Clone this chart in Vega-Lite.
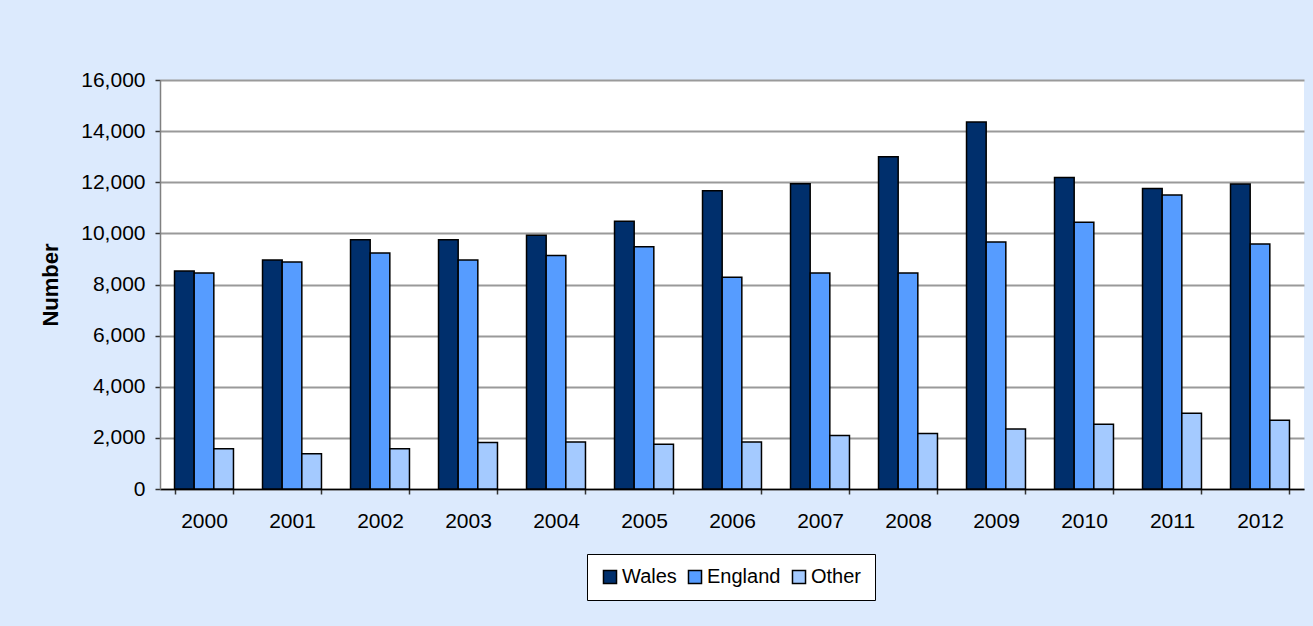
{
  "$schema": "https://vega.github.io/schema/vega-lite/v6.json",
  "autosize": {"type": "none"},
  "width": 1144,
  "height": 409,
  "padding": {"left": 160, "top": 80, "right": 9, "bottom": 137},
  "background": "#dceafd",
  "config": {
    "font": "Liberation Sans",
    "view": {"stroke": null, "fill": "#ffffff"}
  },
  "data": {
    "values": [
      {"year": "2000", "origin": "Wales", "number": 8530},
      {"year": "2000", "origin": "England", "number": 8450},
      {"year": "2000", "origin": "Other", "number": 1570},
      {"year": "2001", "origin": "Wales", "number": 8960},
      {"year": "2001", "origin": "England", "number": 8880},
      {"year": "2001", "origin": "Other", "number": 1380},
      {"year": "2002", "origin": "Wales", "number": 9750},
      {"year": "2002", "origin": "England", "number": 9230},
      {"year": "2002", "origin": "Other", "number": 1570},
      {"year": "2003", "origin": "Wales", "number": 9750},
      {"year": "2003", "origin": "England", "number": 8960},
      {"year": "2003", "origin": "Other", "number": 1820},
      {"year": "2004", "origin": "Wales", "number": 9930},
      {"year": "2004", "origin": "England", "number": 9130},
      {"year": "2004", "origin": "Other", "number": 1840},
      {"year": "2005", "origin": "Wales", "number": 10470},
      {"year": "2005", "origin": "England", "number": 9480},
      {"year": "2005", "origin": "Other", "number": 1750},
      {"year": "2006", "origin": "Wales", "number": 11670},
      {"year": "2006", "origin": "England", "number": 8280},
      {"year": "2006", "origin": "Other", "number": 1840},
      {"year": "2007", "origin": "Wales", "number": 11940},
      {"year": "2007", "origin": "England", "number": 8450},
      {"year": "2007", "origin": "Other", "number": 2090},
      {"year": "2008", "origin": "Wales", "number": 13000},
      {"year": "2008", "origin": "England", "number": 8450},
      {"year": "2008", "origin": "Other", "number": 2170},
      {"year": "2009", "origin": "Wales", "number": 14360},
      {"year": "2009", "origin": "England", "number": 9660},
      {"year": "2009", "origin": "Other", "number": 2350},
      {"year": "2010", "origin": "Wales", "number": 12190},
      {"year": "2010", "origin": "England", "number": 10440},
      {"year": "2010", "origin": "Other", "number": 2530},
      {"year": "2011", "origin": "Wales", "number": 11760},
      {"year": "2011", "origin": "England", "number": 11500},
      {"year": "2011", "origin": "Other", "number": 2960},
      {"year": "2012", "origin": "Wales", "number": 11930},
      {"year": "2012", "origin": "England", "number": 9580},
      {"year": "2012", "origin": "Other", "number": 2690}
    ]
  },
  "mark": {"type": "bar", "stroke": "#000000", "strokeWidth": 1.5},
  "encoding": {
    "x": {
      "field": "year",
      "type": "nominal",
      "scale": {"paddingInner": 0.33, "paddingOuter": 0.165},
      "axis": {
        "title": null,
        "labelAngle": 0,
        "labelFontSize": 21,
        "labelColor": "#000000",
        "labelPadding": 16,
        "tickBand": "extent",
        "tickSize": 5,
        "tickColor": "#333333",
        "tickWidth": 1.5,
        "domainColor": "#000000",
        "domainWidth": 1.5,
        "grid": false
      }
    },
    "xOffset": {
      "field": "origin",
      "type": "nominal",
      "sort": ["Wales", "England", "Other"],
      "scale": {"paddingInner": 0, "paddingOuter": 0}
    },
    "y": {
      "field": "number",
      "type": "quantitative",
      "scale": {"domain": [0, 16000], "nice": false},
      "axis": {
        "title": "Number",
        "titleFontSize": 22,
        "titleFontWeight": "bold",
        "titleColor": "#000000",
        "titlePadding": 18,
        "values": [0, 2000, 4000, 6000, 8000, 10000, 12000, 14000, 16000],
        "format": ",d",
        "labelFontSize": 21,
        "labelColor": "#000000",
        "labelPadding": 10,
        "tickSize": 5,
        "tickColor": "#333333",
        "tickWidth": 1.5,
        "domainColor": "#808080",
        "domainWidth": 1.5,
        "grid": true,
        "gridColor": "#9a9a9a",
        "gridWidth": 2
      }
    },
    "color": {
      "field": "origin",
      "type": "nominal",
      "scale": {
        "domain": ["Wales", "England", "Other"],
        "range": ["#002f6c", "#569cff", "#a4caff"]
      },
      "legend": {
        "title": null,
        "orient": "none",
        "direction": "horizontal",
        "legendX": 427,
        "legendY": 474,
        "fillColor": "#ffffff",
        "strokeColor": "#000000",
        "padding": 13,
        "labelFontSize": 20,
        "labelColor": "#000000",
        "labelOffset": 2,
        "columnPadding": 8,
        "symbolType": "square",
        "symbolSize": 170,
        "symbolStrokeColor": "#000000",
        "symbolStrokeWidth": 1.5
      }
    }
  }
}
